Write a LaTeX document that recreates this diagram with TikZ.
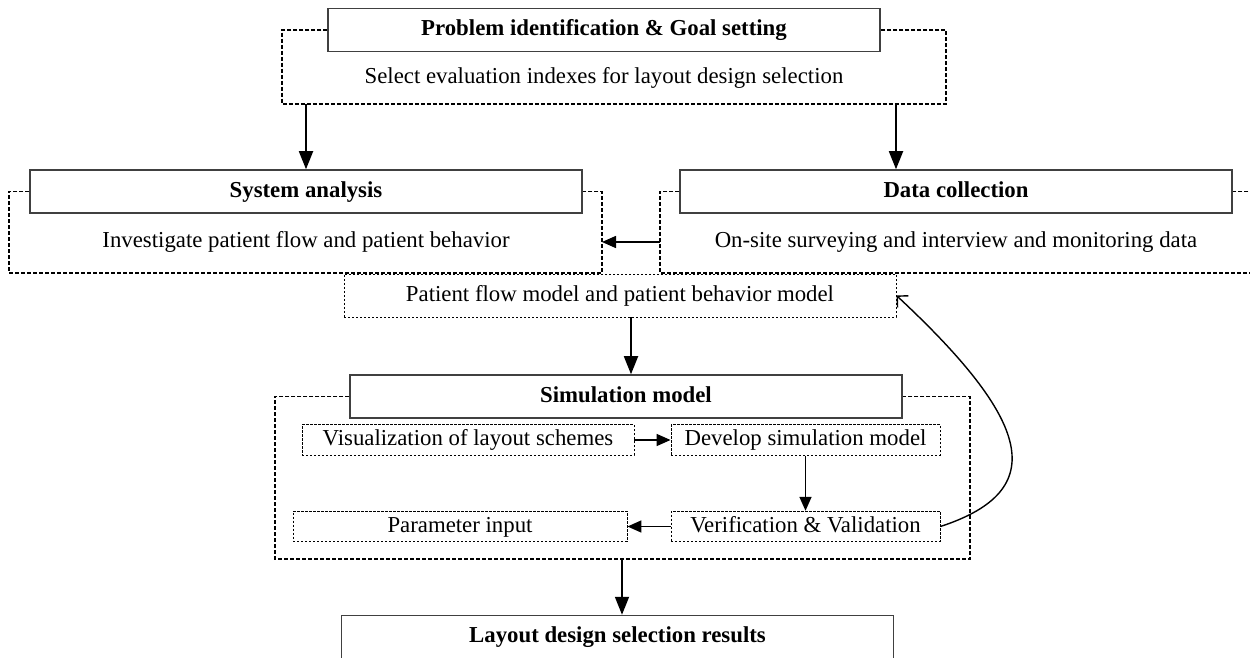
\documentclass[tikz,border=0pt]{standalone}
\usepackage{fontspec}
\setmainfont{Liberation Serif}
\usetikzlibrary{arrows.meta}

\begin{document}
\begin{tikzpicture}[x=0.5pt, y=-0.5pt]
        \tikzstyle{every node} = [font=\fontsize{11.4}{13}\selectfont, text height=8pt, text depth=2.4pt]
        \tikzstyle{titbox} = [draw=black!75, line width=0.75pt, fill=white, inner sep=0pt, minimum width=276pt,
                minimum height=21.5pt, font=\fontsize{11.4}{13}\selectfont\bfseries]
        \tikzstyle{modbox} = [draw, line width=0.45pt, dash pattern=on 1.2pt off 0.8pt, inner sep=0pt,
                minimum width=276pt, minimum height=21.5pt]
        \tikzstyle{subbox} = [draw, line width=0.45pt, dash pattern=on 1.2pt off 0.8pt, inner sep=0pt,
                minimum height=15.25pt]
        \tikzstyle{frame} = [line width=0.6pt, dash pattern=on 2pt off 1pt]
        \tikzstyle{arr} = [line width=0.9pt, -{Triangle[length=9pt, width=7pt]}]
        \tikzstyle{sarr} = [line width=0.8pt, -{Triangle[length=7pt, width=6pt]}]

        \useasboundingbox (0,0) rectangle (1250,658);

        \def\rowa{30}
        \def\rowb{191.5}
        \def\rowc{242}
        \def\rowd{440}
        \def\rowe{526.5}

        % top level
        \node[titbox] (goal) at (604,\rowa) {Problem identification \& Goal setting};
        \node (goaldesc) at (604,78) {Select evaluation indexes for layout design selection};
        \coordinate (gfl) at (282,104);
        \coordinate (gfr) at (946,104);
        \draw[frame] (goal.west) -| (gfl) -- (gfr) |- (goal.east);

        % analysis and data
        \node[titbox] (system) at (306,\rowb) {System analysis};
        \node (sysdesc) at (306,\rowc) {Investigate patient flow and patient behavior};
        \node[titbox] (data) at (956,\rowb) {Data collection};
        \node (datadesc) at (956,\rowc) {On-site surveying and interview and monitoring data};
        \coordinate (sfl) at (9,273);
        \coordinate (sfr) at (602,273);
        \coordinate (dfl) at (660,273);
        \coordinate (dfr) at (1265,273);
        \draw[frame] (system.west) -| (sfl) -- (sfr) |- (system.east);
        \draw[frame] (data.west) -| (dfl) -- (dfr) |- (data.east);
        \coordinate (din) at ([xshift=-30pt]data.north);

        \draw[arr] (gfl -| system.north) -- (system.north);
        \draw[arr] (gfl -| din) -- (din);
        \draw[sarr] (dfl |- datadesc) -- (sfr |- sysdesc);

        \node[modbox] (patient) at (620,295.5) {Patient flow model and patient behavior model};

        % simulation
        \node[titbox] (sim) at (626,396.5) {Simulation model};
        \node[subbox, minimum width=166pt] (vis) at (468,\rowd) {Visualization of layout schemes};
        \node[subbox, minimum width=134.5pt] (dev) at (805.5,\rowd) {Develop simulation model};
        \node[subbox, minimum width=167pt] (param) at (460,\rowe) {Parameter input};
        \node[subbox, minimum width=134.5pt] (ver) at (805.5,\rowe) {Verification \& Validation};
        \coordinate (mfl) at (275,559);
        \coordinate (mfr) at (970,559);
        \draw[frame] (sim.west) -| (mfl) -- (mfr) |- (sim.east);
        \coordinate (mout) at (622,559);

        \draw[arr] ([xshift=5.5pt]patient.south) -- ([xshift=2.5pt]sim.north);
        \draw[sarr] (vis.east) -- (dev.west);
        \draw[sarr] (dev.south) -- (ver.north);
        \draw[sarr] (ver.west) -- (param.east);
        \draw[line width=0.7pt, -{Straight Barb[length=4pt, width=8pt]}] (ver.east)
                .. controls (1052,490) and (1030,420) .. (patient.east);

        \node[titbox] (layout) at (617.5,637) {Layout design selection results};
        \draw[arr] (mout) -- (mout |- layout.north);
\end{tikzpicture}
\end{document}
